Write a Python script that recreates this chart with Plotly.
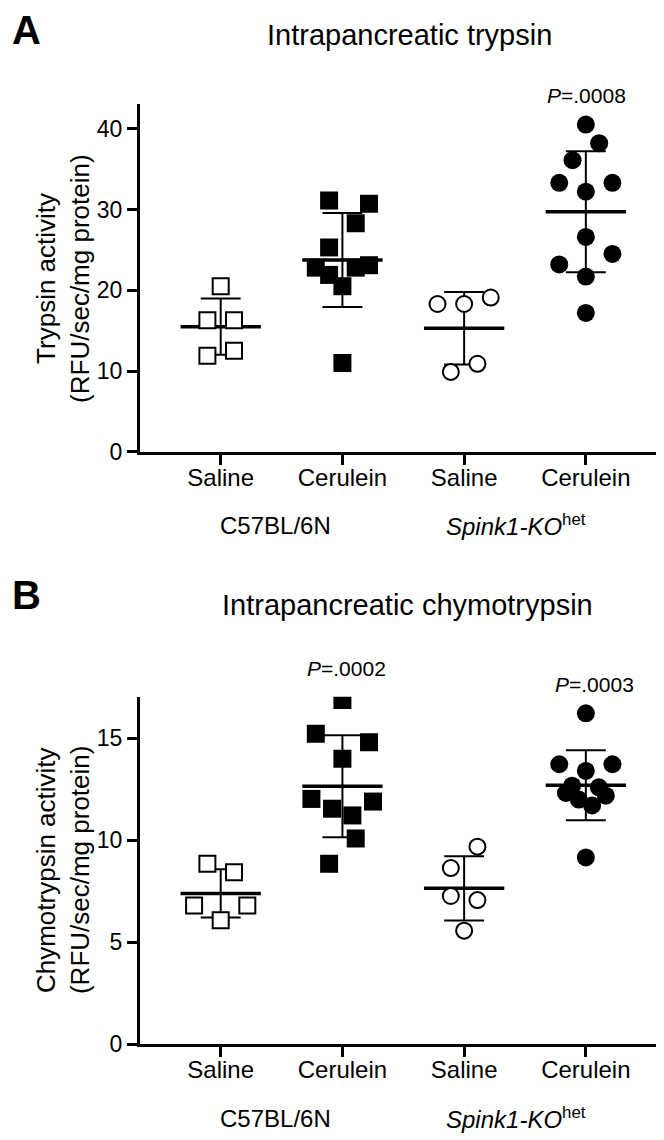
import plotly.graph_objects as go
import numpy as np

W, H = 664, 1140
FONT = "Liberation Sans, Arial, Helvetica, sans-serif"

# ---------------- data ----------------
categories = ["Saline", "Cerulein", "Saline", "Cerulein"]
strain_labels = ["C57BL/6N", "<i>Spink1-KO</i><sup>het</sup>"]

# Panel A: intrapancreatic trypsin activity (RFU/sec/mg protein)
trypsin_wt_saline = [20.5, 16.3, 16.3, 11.9, 12.5]
trypsin_wt_cerulein = [31.1, 30.7, 28.3, 25.3, 22.8, 21.9, 20.5, 22.8, 23.1, 11.0]
trypsin_ko_saline = [18.3, 18.3, 19.1, 9.9, 10.9]
trypsin_ko_cerulein = [40.5, 38.2, 36.1, 33.3, 33.3, 32.2, 26.6, 24.5, 23.2, 21.7, 17.2]

# Panel B: intrapancreatic chymotrypsin activity (RFU/sec/mg protein)
chymo_wt_saline = [8.85, 8.44, 6.81, 6.81, 6.08]
chymo_wt_cerulein = [16.88, 15.23, 14.81, 14.0, 12.03, 11.55, 11.22, 11.9, 10.09, 8.85]
chymo_ko_saline = [9.69, 8.64, 7.27, 7.07, 5.57]
chymo_ko_cerulein = [16.23, 13.73, 13.73, 13.4, 12.68, 12.6, 12.32, 12.19, 12.0, 11.71, 9.16]

p_labels_A = ["", "", "", "<i>P</i>=.0008"]
p_labels_B = ["", "<i>P</i>=.0002", "", "<i>P</i>=.0003"]

y_ticks_A = [0, 10, 20, 30, 40]
y_ticks_B = [0, 5, 10, 15]

# ---------------- layout of the scatter columns (horizontal spread slots) ----------------
spread_A = [
    [0, -1, 1, -1, 1],
    [-1, 2, 1, -1, -2, -1, 0, 1, 2, 0],
    [-2, 0, 2, -1, 1],
    [0, 1, -1, -2, 2, 0, 0, 2, -2, 0, 0],
]
spread_B = [
    [-1, 1, -2, 2, 0],
    [0, -2, 2, 0, -2.33, -0.78, 0.75, 2.3, 1, -1],
    [1, -1, -1, 1, 0],
    [0, -2, 2, 0, -1.03, 0.98, -1.5, 1.5, -0.53, 0.47, 0],
]
STEP = 0.1093
MEAN_HALF = 0.33
CAP_HALF = 0.164

marker_styles = [
    dict(symbol="square", size=16, color="white", line=dict(color="black", width=2)),
    dict(symbol="square", size=18, color="black", line=dict(color="black", width=0)),
    dict(symbol="circle", size=16, color="white", line=dict(color="black", width=2)),
    dict(symbol="circle", size=18, color="black", line=dict(color="black", width=0)),
]


def px_x(p):
    return p / W


def px_y(p):
    return 1 - p / H


fig = go.Figure()


def add_panel(groups, spreads, xa, ya):
    mx, my, sx, sy = [], [], [], []
    for i, vals in enumerate(groups):
        v = np.array(vals, dtype=float)
        m = v.mean()
        sd = v.std(ddof=1)
        mx += [i - MEAN_HALF, i + MEAN_HALF, None]
        my += [m, m, None]
        sx += [i, i, None, i - CAP_HALF, i + CAP_HALF, None, i - CAP_HALF, i + CAP_HALF, None]
        sy += [m - sd, m + sd, None, m + sd, m + sd, None, m - sd, m - sd, None]
    fig.add_trace(go.Scatter(x=sx, y=sy, mode="lines", line=dict(color="black", width=2),
                             xaxis=xa, yaxis=ya, showlegend=False, hoverinfo="skip"))
    fig.add_trace(go.Scatter(x=mx, y=my, mode="lines", line=dict(color="black", width=3.5),
                             xaxis=xa, yaxis=ya, showlegend=False, hoverinfo="skip"))
    for i, vals in enumerate(groups):
        xs = [i + s * STEP for s in spreads[i]]
        fig.add_trace(go.Scatter(x=xs, y=vals, mode="markers", marker=marker_styles[i],
                                 xaxis=xa, yaxis=ya, showlegend=False,
                                 name=categories[i]))


add_panel([trypsin_wt_saline, trypsin_wt_cerulein, trypsin_ko_saline, trypsin_ko_cerulein],
          spread_A, "x", "y")
add_panel([chymo_wt_saline, chymo_wt_cerulein, chymo_ko_saline, chymo_ko_cerulein],
          spread_B, "x2", "y2")

xdom = [px_x(132), px_x(660)]
xrange = [-0.663, 3.675]

common_x = dict(range=xrange, showline=True, linewidth=3, linecolor="black",
                ticks="outside", ticklen=10, tickwidth=2.5, tickcolor="black",
                tickvals=[0, 1, 2, 3], ticktext=categories, showgrid=False, zeroline=False,
                ticklabelstandoff=-8,
                tickfont=dict(family=FONT, size=24, color="black"), fixedrange=True)
common_y = dict(showline=True, linewidth=3, linecolor="black",
                ticks="outside", ticklen=10, tickwidth=2.5, tickcolor="black",
                showgrid=False, zeroline=False,
                tickfont=dict(family=FONT, size=23, color="black"), fixedrange=True)

fig.update_layout(
    width=W, height=H,
    margin=dict(l=0, r=0, t=0, b=0),
    paper_bgcolor="white", plot_bgcolor="white",
    xaxis=dict(domain=xdom, anchor="y", **common_x),
    yaxis=dict(domain=[px_y(449), px_y(96.7)], anchor="x", range=[0, 43.1],
               tickvals=y_ticks_A, **common_y),
    xaxis2=dict(domain=xdom, anchor="y2", **common_x),
    yaxis2=dict(domain=[px_y(1048.2), px_y(696.7)], anchor="x2", range=[0, 17.04],
                tickvals=y_ticks_B, **common_y),
    showlegend=False,
)

ann = []


def add_text(text, xp, yp, size, angle=0, xref="paper"):
    ann.append(dict(text=text, x=xp, y=px_y(yp), xref=xref, yref="paper",
                    xanchor="center", yanchor="middle", textangle=angle, showarrow=False,
                    font=dict(family=FONT, size=size, color="black")))


# panel letters
add_text("<b>A</b>", px_x(18), 22, 40)
add_text("<b>B</b>", px_x(18), 594, 40)
# titles
add_text("Intrapancreatic trypsin", px_x(401), 27, 29)
add_text("Intrapancreatic chymotrypsin", px_x(399), 604, 29)
# y-axis titles
for cy, line1 in [(274, "Trypsin activity"), (872, "Chymotrypsin activity")]:
    add_text(line1, px_x(38), cy, 26, angle=-90)
    add_text("(RFU/sec/mg protein)", px_x(72), cy, 26, angle=-90)
# strain labels
for yb in (523, 1123):
    add_text(strain_labels[0], px_x(267), yb, 24)
    add_text(strain_labels[1], px_x(508), yb, 24)
# p-values (x in category units, y in pixels above the columns)
p_y_A = [None, None, None, 89]
p_dx_A = [0, 0, 0, 0.005]
for i, t in enumerate(p_labels_A):
    if t:
        add_text(t, i + p_dx_A[i], p_y_A[i], 21, xref="x")
p_y_B = [None, 668, None, 684]
p_dx_B = [0, 0.03, 0, 0.075]
for i, t in enumerate(p_labels_B):
    if t:
        add_text(t, i + p_dx_B[i], p_y_B[i], 21, xref="x2")

fig.update_layout(annotations=ann)
fig.write_html("out.html")
